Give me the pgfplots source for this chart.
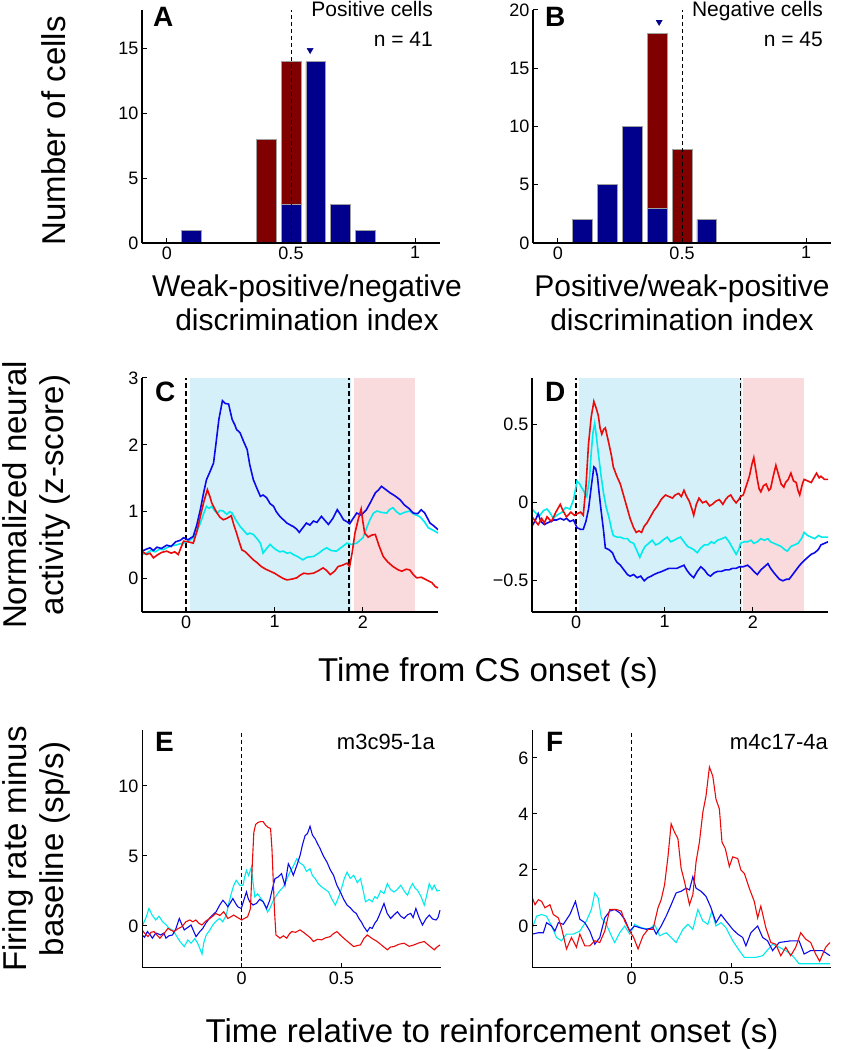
\documentclass[border=0pt]{standalone}
\usepackage{pgfplots}
\pgfplotsset{compat=1.18}
\usepackage{fontspec}
\setmainfont{Liberation Sans}
\definecolor{barblue}{RGB}{0,0,140}
\definecolor{barred}{RGB}{128,0,0}
\definecolor{baredge}{RGB}{160,160,160}
\definecolor{tblue}{RGB}{10,10,235}
\definecolor{tcyan}{RGB}{0,235,235}
\definecolor{tred}{RGB}{235,10,10}
\definecolor{shblue}{RGB}{214,240,249}
\definecolor{shpink}{RGB}{249,219,221}
\pgfplotsset{
  mystyle/.style={
    scale only axis, anchor=south west,
    axis lines*=left,
    axis line style={black, line width=1.2pt, -},
    tick align=inside, major tick length=5pt,
    tick style={black, line width=1pt},
    tick label style={font=\fontsize{18}{20}\selectfont},
    /pgf/number format/assume math mode=true,
    axis on top,
  },
  barstyle/.style={ybar, bar width=0.08, bar shift=0pt, draw=baredge, line width=0.8pt},
}
\begin{document}
\begin{tikzpicture}[x=1pt,y=1pt]
\path[use as bounding box] (0pt,0pt) rectangle (849pt,1050pt);
% ---------------- A
\begin{axis}[mystyle, at={(142pt,807pt)}, width=298pt, height=233pt,
  xmin=-0.1, xmax=1.1, ymin=0, ymax=18,
  xtick={0,0.5,1}, xticklabels={0,0.5,1}, ytick={0,5,10,15}, yticklabels={0,5,10,15}]
\addplot[barstyle, fill=barred] coordinates {(0.4,8) (0.5,14)};
\addplot[barstyle, fill=barblue] coordinates {(0.1,1) (0.5,3) (0.6,14) (0.7,3) (0.8,1)};
\addplot[black, line width=1pt, dash pattern=on 4pt off 3pt] coordinates {(0.5,0) (0.5,18)};
\addplot[only marks, mark=triangle*, mark size=3.5pt, mark options={rotate=180, fill=barblue, draw=barblue}] coordinates {(0.577,14.9)};
\end{axis}
% ---------------- B
\begin{axis}[mystyle, at={(533pt,807pt)}, width=298pt, height=233pt,
  xmin=-0.1, xmax=1.1, ymin=0, ymax=20,
  xtick={0,0.5,1}, xticklabels={0,0.5,1}, ytick={0,5,10,15,20}, yticklabels={0,5,10,15,20}]
\addplot[barstyle, fill=barred] coordinates {(0.4,18) (0.5,8)};
\addplot[barstyle, fill=barblue] coordinates {(0.1,2) (0.2,5) (0.3,10) (0.4,3) (0.6,2)};
\addplot[black, line width=1pt, dash pattern=on 4pt off 3pt] coordinates {(0.5,0) (0.5,20)};
\addplot[only marks, mark=triangle*, mark size=3.5pt, mark options={rotate=180, fill=barblue, draw=barblue}] coordinates {(0.408,18.97)};
\end{axis}
% ---------------- C
\begin{axis}[mystyle, at={(142pt,438pt)}, width=296pt, height=234pt,
  axis line style={line width=1.6pt},
  xmin=-0.5, xmax=2.85, ymin=-0.5, ymax=3,
  xtick={0,1,2}, xticklabels={0,1,2}, ytick={0,1,2,3}, yticklabels={0,1,2,3}]
\addplot[fill=shblue, draw=none] coordinates {(0.04,-0.5) (0.04,3) (1.87,3) (1.87,-0.5)};
\addplot[fill=shpink, draw=none] coordinates {(1.90,-0.5) (1.90,3) (2.59,3) (2.59,-0.5)};
\addplot[black, line width=1.6pt, dash pattern=on 5pt off 3pt] coordinates {(0,-0.5) (0,3)};
\addplot[black, line width=1.6pt, dash pattern=on 5pt off 3pt] coordinates {(1.845,-0.5) (1.845,3)};
\addplot[tcyan, line width=1.6pt] coordinates {(-0.50,0.36) (-0.45,0.38) (-0.40,0.42) (-0.35,0.40) (-0.30,0.44) (-0.26,0.43) (-0.22,0.46) (-0.17,0.49) (-0.12,0.50) (-0.07,0.52) (-0.03,0.53) (0.02,0.56) (0.08,0.61) (0.12,0.70) (0.16,0.83) (0.20,0.98) (0.23,1.08) (0.26,1.05) (0.29,1.08) (0.32,1.02) (0.35,0.98) (0.38,1.02) (0.42,1.01) (0.46,0.96) (0.49,1.00) (0.52,0.98) (0.56,0.88) (0.61,0.78) (0.65,0.72) (0.69,0.66) (0.72,0.68) (0.76,0.66) (0.80,0.60) (0.84,0.53) (0.87,0.38) (0.91,0.45) (0.95,0.51) (0.99,0.46) (1.02,0.43) (1.06,0.40) (1.10,0.41) (1.14,0.38) (1.18,0.39) (1.21,0.36) (1.26,0.33) (1.32,0.28) (1.37,0.32) (1.44,0.33) (1.50,0.38) (1.55,0.43) (1.59,0.46) (1.64,0.42) (1.70,0.41) (1.76,0.47) (1.82,0.53) (1.87,0.51) (1.93,0.53) (2.00,0.61) (2.04,0.75) (2.08,0.88) (2.12,0.98) (2.16,1.01) (2.21,0.99) (2.27,0.98) (2.30,1.03) (2.34,1.06) (2.38,1.00) (2.42,0.96) (2.47,0.99) (2.53,1.01) (2.58,0.96) (2.64,0.93) (2.69,0.86) (2.74,0.76) (2.80,0.72) (2.85,0.68)};
\addplot[tblue, line width=1.6pt] coordinates {(-0.50,0.41) (-0.45,0.44) (-0.41,0.46) (-0.37,0.42) (-0.33,0.47) (-0.28,0.45) (-0.22,0.50) (-0.17,0.48) (-0.12,0.55) (-0.07,0.57) (-0.03,0.61) (0.02,0.58) (0.08,0.63) (0.12,0.80) (0.16,1.03) (0.20,1.30) (0.23,1.48) (0.27,1.60) (0.31,1.73) (0.34,2.05) (0.37,2.38) (0.41,2.66) (0.44,2.62) (0.48,2.61) (0.52,2.38) (0.55,2.30) (0.57,2.23) (0.61,2.18) (0.65,2.05) (0.69,1.93) (0.72,1.70) (0.76,1.48) (0.80,1.35) (0.84,1.23) (0.87,1.25) (0.91,1.21) (0.95,1.12) (0.99,1.08) (1.02,1.00) (1.06,0.93) (1.10,0.88) (1.14,0.83) (1.18,0.80) (1.21,0.78) (1.25,0.74) (1.28,0.69) (1.32,0.76) (1.36,0.83) (1.40,0.80) (1.44,0.86) (1.48,0.84) (1.53,0.93) (1.57,0.87) (1.61,0.81) (1.66,0.90) (1.71,1.03) (1.75,0.95) (1.78,0.88) (1.82,0.85) (1.85,0.82) (1.89,0.90) (1.93,0.98) (1.98,0.95) (2.04,1.03) (2.09,1.15) (2.14,1.28) (2.18,1.33) (2.21,1.38) (2.26,1.33) (2.31,1.28) (2.36,1.24) (2.42,1.18) (2.47,1.10) (2.52,1.05) (2.57,0.98) (2.62,0.97) (2.66,1.03) (2.70,0.98) (2.76,0.83) (2.81,0.78) (2.85,0.73)};
\addplot[tred, line width=1.6pt] coordinates {(-0.50,0.41) (-0.45,0.36) (-0.41,0.38) (-0.37,0.31) (-0.33,0.35) (-0.28,0.39) (-0.22,0.41) (-0.17,0.38) (-0.13,0.40) (-0.09,0.36) (-0.03,0.56) (0.02,0.55) (0.08,0.53) (0.12,0.70) (0.16,0.93) (0.20,1.15) (0.24,1.33) (0.27,1.22) (0.29,1.13) (0.32,1.05) (0.35,0.98) (0.38,0.92) (0.42,0.88) (0.46,0.90) (0.51,0.94) (0.54,0.80) (0.57,0.68) (0.60,0.55) (0.63,0.43) (0.67,0.40) (0.70,0.36) (0.73,0.32) (0.76,0.28) (0.80,0.24) (0.85,0.18) (0.90,0.14) (0.95,0.11) (1.00,0.08) (1.06,0.03) (1.10,0.00) (1.14,-0.02) (1.19,-0.01) (1.25,0.01) (1.29,0.05) (1.33,0.08) (1.38,0.07) (1.44,0.08) (1.50,0.12) (1.55,0.16) (1.59,0.12) (1.63,0.06) (1.68,0.11) (1.72,0.18) (1.77,0.20) (1.82,0.23) (1.85,0.18) (1.88,0.40) (1.91,0.68) (1.95,0.90) (1.98,1.04) (2.00,0.85) (2.02,0.68) (2.06,0.62) (2.10,0.65) (2.14,0.66) (2.18,0.50) (2.23,0.33) (2.28,0.25) (2.34,0.18) (2.40,0.13) (2.44,0.11) (2.49,0.14) (2.53,0.13) (2.57,0.06) (2.61,0.01) (2.66,0.02) (2.72,-0.02) (2.78,-0.06) (2.82,-0.12) (2.85,-0.14)};
\end{axis}
% ---------------- D
\begin{axis}[mystyle, at={(532pt,438pt)}, width=296pt, height=234pt,
  axis line style={line width=1.6pt},
  xmin=-0.5, xmax=2.85, ymin=-0.7, ymax=0.8,
  xtick={0,1,2}, xticklabels={0,1,2}, ytick={-0.5,0,0.5}, yticklabels={−0.5,0,0.5}]
\addplot[fill=shblue, draw=none] coordinates {(0.03,-0.7) (0.03,0.8) (1.88,0.8) (1.88,-0.7)};
\addplot[fill=shpink, draw=none] coordinates {(1.89,-0.7) (1.89,0.8) (2.58,0.8) (2.58,-0.7)};
\addplot[black, line width=1.6pt, dash pattern=on 5pt off 3pt] coordinates {(0,-0.7) (0,0.8)};
\addplot[black, line width=1.6pt, dash pattern=on 5pt off 3pt] coordinates {(1.86,-0.7) (1.86,0.8)};
\addplot[tcyan, line width=1.6pt] coordinates {(-0.50,-0.04) (-0.45,-0.07) (-0.41,-0.08) (-0.37,-0.05) (-0.33,-0.04) (-0.29,-0.07) (-0.26,-0.10) (-0.22,-0.08) (-0.16,-0.06) (-0.12,-0.03) (-0.07,-0.04) (-0.03,0.02) (0.01,0.14) (0.04,0.12) (0.06,0.10) (0.09,0.07) (0.12,0.04) (0.15,0.15) (0.17,0.32) (0.19,0.45) (0.21,0.51) (0.23,0.42) (0.25,0.32) (0.28,0.18) (0.31,0.06) (0.34,-0.03) (0.37,-0.09) (0.40,-0.17) (0.42,-0.21) (0.46,-0.22) (0.50,-0.22) (0.54,-0.23) (0.58,-0.23) (0.61,-0.25) (0.65,-0.26) (0.69,-0.31) (0.72,-0.35) (0.75,-0.31) (0.78,-0.28) (0.82,-0.26) (0.86,-0.24) (0.90,-0.27) (0.94,-0.26) (0.98,-0.24) (1.03,-0.22) (1.07,-0.25) (1.11,-0.24) (1.14,-0.23) (1.18,-0.22) (1.22,-0.25) (1.26,-0.28) (1.30,-0.29) (1.33,-0.30) (1.37,-0.32) (1.41,-0.29) (1.45,-0.27) (1.49,-0.27) (1.53,-0.25) (1.56,-0.26) (1.60,-0.24) (1.65,-0.23) (1.69,-0.22) (1.73,-0.25) (1.77,-0.29) (1.81,-0.33) (1.84,-0.30) (1.86,-0.26) (1.90,-0.25) (1.94,-0.25) (1.98,-0.24) (2.01,-0.26) (2.05,-0.25) (2.09,-0.23) (2.13,-0.24) (2.17,-0.23) (2.20,-0.25) (2.24,-0.26) (2.28,-0.27) (2.32,-0.28) (2.36,-0.30) (2.39,-0.31) (2.43,-0.28) (2.47,-0.27) (2.51,-0.26) (2.55,-0.23) (2.58,-0.19) (2.62,-0.21) (2.66,-0.22) (2.70,-0.23) (2.74,-0.21) (2.78,-0.22) (2.85,-0.22)};
\addplot[tblue, line width=1.6pt] coordinates {(-0.50,-0.15) (-0.46,-0.11) (-0.43,-0.07) (-0.40,-0.12) (-0.36,-0.14) (-0.33,-0.13) (-0.29,-0.12) (-0.25,-0.11) (-0.22,-0.11) (-0.18,-0.10) (-0.14,-0.11) (-0.11,-0.10) (-0.07,-0.12) (-0.03,-0.11) (0.01,-0.16) (0.05,-0.17) (0.08,-0.17) (0.11,-0.12) (0.14,-0.04) (0.17,0.10) (0.20,0.23) (0.22,0.22) (0.24,0.17) (0.26,0.06) (0.28,-0.04) (0.31,-0.18) (0.33,-0.29) (0.37,-0.30) (0.41,-0.32) (0.44,-0.36) (0.46,-0.38) (0.50,-0.40) (0.54,-0.43) (0.58,-0.46) (0.61,-0.47) (0.65,-0.46) (0.69,-0.48) (0.73,-0.47) (0.77,-0.50) (0.81,-0.48) (0.85,-0.47) (0.88,-0.46) (0.92,-0.45) (0.97,-0.44) (1.01,-0.43) (1.05,-0.42) (1.09,-0.42) (1.14,-0.42) (1.18,-0.41) (1.22,-0.40) (1.25,-0.43) (1.29,-0.46) (1.33,-0.48) (1.37,-0.44) (1.41,-0.41) (1.45,-0.43) (1.49,-0.46) (1.52,-0.47) (1.56,-0.45) (1.60,-0.44) (1.64,-0.44) (1.69,-0.43) (1.73,-0.43) (1.77,-0.42) (1.81,-0.42) (1.85,-0.41) (1.89,-0.41) (1.94,-0.40) (1.98,-0.42) (2.01,-0.44) (2.05,-0.46) (2.09,-0.43) (2.13,-0.41) (2.17,-0.39) (2.20,-0.42) (2.24,-0.45) (2.27,-0.47) (2.30,-0.49) (2.34,-0.50) (2.38,-0.49) (2.41,-0.49) (2.45,-0.46) (2.49,-0.43) (2.53,-0.40) (2.58,-0.37) (2.62,-0.35) (2.66,-0.33) (2.70,-0.32) (2.74,-0.30) (2.77,-0.27) (2.81,-0.26) (2.85,-0.25)};
\addplot[tred, line width=1.6pt] coordinates {(-0.50,-0.09) (-0.46,-0.12) (-0.43,-0.14) (-0.39,-0.10) (-0.36,-0.13) (-0.33,-0.09) (-0.28,-0.12) (-0.23,-0.06) (-0.18,-0.01) (-0.15,-0.05) (-0.11,-0.09) (-0.06,-0.06) (-0.02,-0.08) (0.01,-0.07) (0.05,-0.06) (0.08,-0.08) (0.11,0.10) (0.14,0.38) (0.17,0.55) (0.20,0.65) (0.23,0.60) (0.25,0.56) (0.27,0.48) (0.29,0.44) (0.31,0.47) (0.33,0.48) (0.35,0.43) (0.37,0.38) (0.40,0.30) (0.42,0.23) (0.46,0.17) (0.50,0.12) (0.54,0.04) (0.58,-0.04) (0.61,-0.10) (0.65,-0.16) (0.68,-0.19) (0.71,-0.18) (0.74,-0.19) (0.77,-0.15) (0.80,-0.13) (0.84,-0.09) (0.88,-0.05) (0.92,-0.02) (0.96,0.02) (1.01,0.05) (1.05,0.04) (1.09,0.03) (1.12,0.05) (1.16,0.06) (1.19,0.04) (1.22,0.08) (1.25,0.04) (1.28,0.01) (1.31,-0.04) (1.33,-0.08) (1.36,-0.01) (1.39,0.03) (1.43,0.00) (1.47,0.01) (1.51,-0.02) (1.54,-0.01) (1.58,0.01) (1.62,0.02) (1.66,-0.01) (1.69,0.02) (1.72,0.04) (1.75,0.05) (1.78,0.02) (1.81,0.00) (1.84,0.02) (1.86,0.04) (1.89,0.05) (1.92,0.10) (1.96,0.17) (1.99,0.25) (2.01,0.29) (2.03,0.22) (2.05,0.15) (2.07,0.09) (2.09,0.07) (2.12,0.11) (2.15,0.12) (2.18,0.08) (2.20,0.09) (2.23,0.17) (2.26,0.24) (2.29,0.18) (2.32,0.12) (2.35,0.10) (2.37,0.13) (2.40,0.15) (2.43,0.19) (2.46,0.14) (2.49,0.13) (2.51,0.08) (2.53,0.05) (2.56,0.12) (2.58,0.15) (2.62,0.14) (2.66,0.13) (2.69,0.16) (2.72,0.19) (2.75,0.16) (2.77,0.17) (2.81,0.15) (2.85,0.15)};
\end{axis}
% ---------------- E
\begin{axis}[mystyle, at={(142pt,82pt)}, width=299pt, height=238pt,
  axis line style={line width=1pt},
  xmin=-0.5, xmax=1.0, ymin=-3, ymax=14,
  xtick={0,0.5}, xticklabels={0,0.5}, ytick={0,5,10}, yticklabels={0,5,10}]
\addplot[black, line width=1pt, dash pattern=on 4pt off 3pt] coordinates {(0,-3) (0,14)};
\addplot[tcyan, line width=1.1pt] coordinates {(-0.50,-0.05) (-0.48,0.6) (-0.465,1.25) (-0.45,0.8) (-0.431,0.43) (-0.415,0.7) (-0.397,0.31) (-0.38,0.1) (-0.364,-0.17) (-0.345,-0.3) (-0.330,-0.64) (-0.31,-1.1) (-0.288,-1.47) (-0.27,-1.0) (-0.254,-1.23) (-0.235,-0.9) (-0.221,-1.23) (-0.21,-1.6) (-0.199,-2.01) (-0.19,-1.2) (-0.178,-0.64) (-0.16,-0.3) (-0.145,0.07) (-0.128,0.35) (-0.111,0.54) (-0.095,0.3) (-0.077,0.78) (-0.065,1.6) (-0.052,2.32) (-0.04,2.9) (-0.027,3.26) (-0.010,2.91) (0.007,2.91) (0.015,3.5) (0.024,3.97) (0.035,3.6) (0.049,4.21) (0.058,3.0) (0.066,2.08) (0.08,2.3) (0.091,2.08) (0.105,1.8) (0.116,1.49) (0.13,1.0) (0.141,1.25) (0.158,1.8) (0.175,2.20) (0.19,2.5) (0.209,2.79) (0.225,3.3) (0.242,3.85) (0.26,4.3) (0.276,4.80) (0.293,4.5) (0.310,4.33) (0.325,3.9) (0.343,4.09) (0.355,3.6) (0.369,3.38) (0.385,3.0) (0.402,2.79) (0.42,2.6) (0.436,2.43) (0.453,1.9) (0.470,1.49) (0.487,2.1) (0.503,2.79) (0.515,3.4) (0.529,3.85) (0.545,3.4) (0.562,3.62) (0.58,3.1) (0.596,3.38) (0.61,2.5) (0.621,1.73) (0.64,1.9) (0.655,1.73) (0.668,2.1) (0.680,1.96) (0.697,2.5) (0.714,2.32) (0.731,3.03) (0.747,2.6) (0.764,2.43) (0.78,2.6) (0.798,2.91) (0.815,2.5) (0.832,2.20) (0.845,2.7) (0.857,3.03) (0.87,2.7) (0.882,2.55) (0.9,2.1) (0.916,1.49) (0.93,2.3) (0.941,3.03) (0.955,2.6) (0.966,2.91) (0.98,2.5) (0.995,2.55)};
\addplot[tblue, line width=1.1pt] coordinates {(-0.50,-0.64) (-0.487,-0.8) (-0.473,-0.40) (-0.46,-0.6) (-0.448,-0.87) (-0.43,-0.5) (-0.406,-0.64) (-0.39,-0.5) (-0.380,-0.87) (-0.365,-0.7) (-0.347,-0.64) (-0.33,-0.2) (-0.313,0.54) (-0.30,0.1) (-0.288,-0.28) (-0.27,-0.1) (-0.254,0.07) (-0.24,-0.4) (-0.229,-0.76) (-0.21,-0.4) (-0.195,-0.17) (-0.18,0.2) (-0.162,0.54) (-0.145,0.8) (-0.128,1.02) (-0.11,1.5) (-0.094,1.84) (-0.08,1.6) (-0.069,1.37) (-0.055,1.7) (-0.044,1.96) (-0.03,1.6) (-0.019,1.37) (-0.002,1.25) (0.012,1.9) (0.024,2.43) (0.032,2.0) (0.040,1.73) (0.057,1.5) (0.074,1.61) (0.09,1.9) (0.108,1.73) (0.125,1.25) (0.141,1.84) (0.155,2.7) (0.167,3.38) (0.183,3.5) (0.200,3.74) (0.217,2.91) (0.234,4.44) (0.246,4.1) (0.259,3.62) (0.276,4.3) (0.293,5.04) (0.305,5.8) (0.318,6.45) (0.33,6.6) (0.343,7.12) (0.355,6.5) (0.369,6.22) (0.38,5.9) (0.394,5.51) (0.41,5.0) (0.428,4.56) (0.445,4.0) (0.461,3.62) (0.478,2.9) (0.495,2.43) (0.512,1.9) (0.529,1.49) (0.545,1.3) (0.562,1.02) (0.575,0.9) (0.588,0.54) (0.60,0.3) (0.613,-0.05) (0.630,-0.40) (0.643,-0.1) (0.655,-0.17) (0.668,0.2) (0.680,0.43) (0.697,1.0) (0.714,1.61) (0.73,0.9) (0.747,0.54) (0.765,0.8) (0.781,1.02) (0.798,0.7) (0.815,0.54) (0.832,0.8) (0.848,0.90) (0.86,0.6) (0.874,1.25) (0.89,0.6) (0.907,0.07) (0.924,0.5) (0.941,0.78) (0.958,0.5) (0.975,0.43) (0.985,0.6) (0.995,1.13)};
\addplot[tred, line width=1.1pt] coordinates {(-0.50,-0.28) (-0.485,-0.55) (-0.47,-0.76) (-0.455,-0.45) (-0.44,-0.40) (-0.425,-0.65) (-0.41,-0.87) (-0.39,-0.55) (-0.37,-0.17) (-0.355,-0.30) (-0.34,-0.40) (-0.32,-0.20) (-0.30,-0.05) (-0.28,0.30) (-0.26,0.43) (-0.245,0.30) (-0.23,0.43) (-0.215,0.20) (-0.20,0.07) (-0.18,0.35) (-0.16,0.54) (-0.145,0.70) (-0.13,0.90) (-0.11,0.75) (-0.09,1.02) (-0.08,0.80) (-0.07,0.54) (-0.055,0.65) (-0.04,0.78) (-0.02,0.60) (0.00,0.43) (0.015,0.55) (0.03,0.66) (0.044,1.25) (0.052,4.0) (0.061,6.69) (0.07,7.25) (0.082,7.40) (0.095,7.45) (0.108,7.45) (0.12,7.2) (0.133,7.04) (0.145,6.97) (0.152,5.5) (0.158,3.38) (0.165,1.0) (0.172,-0.64) (0.182,-0.75) (0.192,-0.87) (0.21,-0.70) (0.226,-0.87) (0.24,-0.55) (0.251,-0.40) (0.27,-0.45) (0.293,-0.28) (0.31,-0.45) (0.327,-0.64) (0.345,-0.85) (0.360,-1.11) (0.38,-0.95) (0.402,-0.99) (0.42,-0.85) (0.444,-0.76) (0.46,-0.55) (0.478,-0.40) (0.495,-0.65) (0.512,-0.87) (0.535,-1.15) (0.562,-1.47) (0.58,-1.40) (0.596,-1.35) (0.613,-0.90) (0.630,-0.64) (0.655,-0.90) (0.680,-1.11) (0.705,-1.40) (0.731,-1.70) (0.747,-1.50) (0.764,-1.47) (0.79,-1.30) (0.815,-1.23) (0.84,-1.45) (0.865,-1.35) (0.89,-1.20) (0.916,-1.11) (0.94,-1.40) (0.966,-1.70) (0.98,-1.50) (0.995,-1.35)};
\end{axis}
% ---------------- F
\begin{axis}[mystyle, at={(532pt,82pt)}, width=299pt, height=238pt,
  axis line style={line width=1pt},
  xmin=-0.5, xmax=1.0, ymin=-1.5, ymax=7,
  xtick={0,0.5}, xticklabels={0,0.5}, ytick={0,2,4,6}, yticklabels={0,2,4,6}]
\addplot[black, line width=1pt, dash pattern=on 4pt off 3pt] coordinates {(0,-1.5) (0,7)};
\addplot[tcyan, line width=1.1pt] coordinates {(-0.498,-0.06) (-0.477,0.35) (-0.452,0.41) (-0.427,0.35) (-0.402,0.0) (-0.377,-0.41) (-0.352,-0.53) (-0.327,-0.29) (-0.293,-0.29) (-0.260,-0.18) (-0.227,0.18) (-0.202,0.59) (-0.185,1.18) (-0.168,1.0) (-0.152,0.29) (-0.127,0.06) (-0.102,-0.35) (-0.085,-0.59) (-0.060,-0.24) (-0.035,0.0) (-0.010,-0.29) (0.015,0.06) (0.048,-0.06) (0.090,-0.12) (0.115,0.06) (0.140,-0.35) (0.173,-0.24) (0.198,-0.41) (0.223,-0.59) (0.257,-0.12) (0.282,0.06) (0.307,-0.12) (0.332,0.59) (0.357,0.18) (0.382,0.06) (0.402,0.53) (0.423,0.0) (0.448,0.12) (0.473,-0.06) (0.507,-0.53) (0.540,-0.88) (0.565,-1.12) (0.623,-1.12) (0.657,-1.06) (0.707,-0.65) (0.740,-0.76) (0.773,-0.88) (0.807,-1.06) (0.840,-1.35) (0.907,-1.35) (0.995,-1.35)};
\addplot[tblue, line width=1.1pt] coordinates {(-0.498,-0.29) (-0.468,-0.24) (-0.443,-0.24) (-0.427,0.12) (-0.402,0.0) (-0.385,-0.18) (-0.368,0.12) (-0.343,0.06) (-0.310,0.41) (-0.282,0.88) (-0.260,0.24) (-0.235,0.12) (-0.210,-0.18) (-0.185,-0.65) (-0.160,-0.41) (-0.135,0.29) (-0.110,0.53) (-0.085,0.59) (-0.060,0.47) (-0.035,0.24) (-0.010,-0.18) (0.015,0.0) (0.040,-0.06) (0.073,-0.12) (0.107,-0.06) (0.123,-0.29) (0.148,0.0) (0.173,0.35) (0.198,0.76) (0.223,1.18) (0.248,1.24) (0.273,1.35) (0.290,1.29) (0.307,1.76) (0.323,1.35) (0.348,1.24) (0.373,1.06) (0.398,0.65) (0.423,0.12) (0.448,0.41) (0.473,0.18) (0.507,-0.12) (0.532,-0.29) (0.557,-0.41) (0.573,-0.71) (0.598,-0.24) (0.632,0.0) (0.657,-0.41) (0.682,-0.53) (0.707,-0.88) (0.740,-0.59) (0.798,-0.53) (0.840,-0.53) (0.865,-1.0) (0.898,-0.88) (0.957,-0.88) (0.995,-1.06)};
\addplot[tred, line width=1.1pt] coordinates {(-0.498,1.0) (-0.485,0.76) (-0.468,0.94) (-0.452,0.88) (-0.435,0.65) (-0.410,0.76) (-0.393,0.41) (-0.368,0.29) (-0.352,-0.06) (-0.327,-0.82) (-0.302,-0.41) (-0.277,-0.76) (-0.260,-0.29) (-0.235,-0.71) (-0.210,-0.71) (-0.185,-0.53) (-0.160,-0.59) (-0.135,-0.18) (-0.110,0.59) (-0.077,0.59) (-0.052,0.53) (-0.035,0.18) (-0.010,-0.18) (0.010,-0.41) (0.032,-0.82) (0.057,-0.35) (0.082,-0.12) (0.107,-0.12) (0.132,0.65) (0.148,0.94) (0.165,1.47) (0.182,2.47) (0.198,3.65) (0.215,3.35) (0.232,3.12) (0.248,2.06) (0.265,1.59) (0.290,0.76) (0.307,1.12) (0.323,2.29) (0.340,3.0) (0.357,4.06) (0.373,4.65) (0.390,5.68) (0.407,5.35) (0.423,4.53) (0.440,4.18) (0.453,3.0) (0.470,2.76) (0.490,2.12) (0.507,2.47) (0.532,2.41) (0.548,2.0) (0.565,1.88) (0.590,1.35) (0.615,0.88) (0.632,0.29) (0.648,0.71) (0.673,-0.06) (0.698,-0.59) (0.723,-0.65) (0.748,-1.06) (0.773,-0.76) (0.798,-1.06) (0.823,-0.76) (0.848,-0.24) (0.873,-0.47) (0.898,-0.59) (0.923,-1.0) (0.943,-1.26) (0.973,-0.76) (0.995,-0.59)};
\end{axis}
% ---------------- texts
\begin{scope}[every node/.style={inner sep=0pt}]
\node[anchor=base west, font=\bfseries\fontsize{28}{30}\selectfont] at (153pt,1023pt) {A};
\node[anchor=base west, font=\bfseries\fontsize{28}{30}\selectfont] at (545pt,1023pt) {B};
\node[anchor=base west, font=\bfseries\fontsize{28}{30}\selectfont] at (155pt,648pt) {C};
\node[anchor=base west, font=\bfseries\fontsize{28}{30}\selectfont] at (545pt,648pt) {D};
\node[anchor=base west, font=\bfseries\fontsize{28}{30}\selectfont] at (155pt,298pt) {E};
\node[anchor=base west, font=\bfseries\fontsize{28}{30}\selectfont] at (546pt,298pt) {F};
\node[anchor=base east, font=\fontsize{21}{24}\selectfont] at (433pt,1033pt) {Positive cells};
\node[anchor=base east, font=\fontsize{21}{24}\selectfont] at (433pt,1003pt) {n = 41};
\node[anchor=base east, font=\fontsize{21}{24}\selectfont] at (823pt,1033pt) {Negative cells};
\node[anchor=base east, font=\fontsize{21}{24}\selectfont] at (823pt,1003pt) {n = 45};
\node[anchor=base east, font=\fontsize{22}{24}\selectfont] at (435pt,300pt) {m3c95-1a};
\node[anchor=base east, font=\fontsize{22}{24}\selectfont] at (828pt,300pt) {m4c17-4a};
\node[anchor=base, font=\fontsize{30}{34}\selectfont] at (307pt,753pt) {Weak-positive/negative};
\node[anchor=base, font=\fontsize{30}{34}\selectfont] at (307pt,719pt) {discrimination index};
\node[anchor=base, font=\fontsize{30}{34}\selectfont] at (682pt,753pt) {Positive/weak-positive};
\node[anchor=base, font=\fontsize{30}{34}\selectfont] at (682pt,719pt) {discrimination index};
\node[anchor=base, font=\fontsize{33}{36}\selectfont] at (488pt,368pt) {Time from CS onset (s)};
\node[anchor=base, font=\fontsize{33}{36}\selectfont] at (492pt,7pt) {Time relative to reinforcement onset (s)};
\node[anchor=base, rotate=90, font=\fontsize{33}{36}\selectfont] at (65pt,919pt) {Number of cells};
\node[anchor=base, rotate=90, font=\fontsize{33}{36}\selectfont] at (26pt,555pt) {Normalized neural};
\node[anchor=base, rotate=90, font=\fontsize{33}{36}\selectfont] at (63pt,555pt) {activity (z-score)};
\node[anchor=base, rotate=90, font=\fontsize{33}{36}\selectfont] at (26pt,201pt) {Firing rate minus};
\node[anchor=base, rotate=90, font=\fontsize{33}{36}\selectfont] at (63pt,201pt) {baseline (sp/s)};
\end{scope}
\end{tikzpicture}
\end{document}
